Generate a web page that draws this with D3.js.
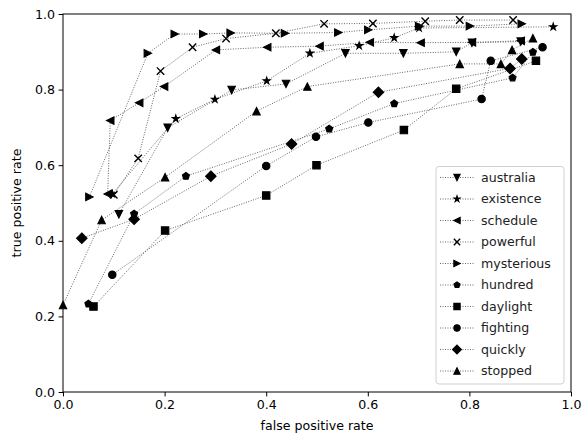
<!DOCTYPE html>
<html>
<head>
<meta charset="utf-8">
<script src="https://cdn.jsdelivr.net/npm/d3@7"></script>
<style>
  html, body { margin: 0; padding: 0; background: #fff; overflow: hidden; }
  svg { display: block; font-family: "DejaVu Sans", sans-serif; overflow: visible; }
</style>
</head>
<body>
<div class="charts-container"></div>
<script>
"use strict";

// ROC points per word: [false positive rate, true positive rate]
const australia = [[0.110, 0.470], [0.206, 0.699], [0.332, 0.799], [0.439, 0.815], [0.556, 0.896], [0.670, 0.896], [0.774, 0.900], [0.805, 0.924], [0.901, 0.927]];
const existence = [[0.097, 0.524], [0.222, 0.723], [0.299, 0.774], [0.401, 0.823], [0.486, 0.896], [0.583, 0.916], [0.652, 0.937], [0.701, 0.963], [0.965, 0.966]];
const schedule = [[0.088, 0.524], [0.093, 0.718], [0.150, 0.765], [0.199, 0.808], [0.301, 0.905], [0.402, 0.912], [0.505, 0.915], [0.604, 0.925], [0.704, 0.924], [0.805, 0.925], [0.901, 0.929]];
const powerful = [[0.100, 0.522], [0.148, 0.618], [0.192, 0.849], [0.255, 0.912], [0.321, 0.935], [0.419, 0.949], [0.514, 0.974], [0.610, 0.975], [0.713, 0.981], [0.781, 0.984], [0.886, 0.984]];
const mysterious = [[0.052, 0.516], [0.167, 0.896], [0.220, 0.947], [0.276, 0.947], [0.330, 0.950], [0.437, 0.949], [0.542, 0.951], [0.601, 0.958], [0.701, 0.968], [0.801, 0.968], [0.903, 0.974]];
const hundred = [[0.050, 0.233], [0.140, 0.471], [0.242, 0.571], [0.524, 0.696], [0.652, 0.763], [0.885, 0.831], [0.925, 0.899]];
const daylight = [[0.060, 0.226], [0.201, 0.427], [0.400, 0.520], [0.499, 0.600], [0.671, 0.693], [0.774, 0.802], [0.931, 0.876]];
const fighting = [[0.097, 0.310], [0.400, 0.598], [0.498, 0.675], [0.601, 0.713], [0.824, 0.775], [0.842, 0.876], [0.944, 0.912]];
const quickly = [[0.037, 0.407], [0.140, 0.457], [0.291, 0.571], [0.450, 0.656], [0.621, 0.793], [0.880, 0.856], [0.903, 0.881]];
const stopped = [[0.000, 0.230], [0.076, 0.455], [0.201, 0.568], [0.381, 0.743], [0.481, 0.808], [0.781, 0.868], [0.862, 0.868], [0.884, 0.905], [0.925, 0.936]];

const seriesNames = ["australia", "existence", "schedule", "powerful", "mysterious", "hundred", "daylight", "fighting", "quickly", "stopped"];
const seriesValues = [australia, existence, schedule, powerful, mysterious, hundred, daylight, fighting, quickly, stopped];

const tickValues = [0, 0.2, 0.4, 0.6, 0.8, 1.0];

// Marker shape for each word (matplotlib style codes)
const markerTypes = ["v", "*", "<", "x", ">", "p", "s", "o", "D", "^"];

// Builds a marker path centred on 0,0, s is the marker size in px
function markerPath(type, s) {
  const h = s / 2;
  const poly = pts => "M" + pts.map(p => p[0].toFixed(2) + "," + p[1].toFixed(2)).join("L") + "Z";
  if (type === "v") return poly([[-h, -h], [h, -h], [0, h]]);
  if (type === "^") return poly([[0, -h], [h, h], [-h, h]]);
  if (type === "<") return poly([[-h, 0], [h, -h], [h, h]]);
  if (type === ">") return poly([[h, 0], [-h, h], [-h, -h]]);
  if (type === "s") return poly([[-h, -h], [h, -h], [h, h], [-h, h]]);
  if (type === "D") {
    const d = h * Math.SQRT2;
    return poly([[0, -d], [d, 0], [0, d], [-d, 0]]);
  }
  if (type === "o") return `M${h},0A${h},${h} 0 1,1 ${-h},0A${h},${h} 0 1,1 ${h},0Z`;
  if (type === "p") {
    return poly(d3.range(5).map(i => {
      const a = -Math.PI / 2 + i * 2 * Math.PI / 5;
      return [h * Math.cos(a), h * Math.sin(a)];
    }));
  }
  if (type === "*") {
    return poly(d3.range(10).map(i => {
      const a = -Math.PI / 2 + i * Math.PI / 5;
      const r = i % 2 === 0 ? h : h * 0.382;
      return [r * Math.cos(a), r * Math.sin(a)];
    }));
  }
  if (type === "x") return `M${-h},${-h}L${h},${h}M${-h},${h}L${h},${-h}`;
}

function drawMarker(sel, type, size) {
  sel.append("path")
    .attr("d", markerPath(type, size))
    .attr("fill", type === "x" ? "none" : "#000")
    .attr("stroke", "#000")
    .attr("stroke-width", type === "x" ? 1.4 : 1.1)
    .attr("stroke-linejoin", "miter");
}

const width = 584;
const height = 436;
const margin = { left: 63, right: 13, top: 14, bottom: 44 };
const innerWidth = width - margin.left - margin.right;
const innerHeight = height - margin.top - margin.bottom;
const fontSize = 12.6;
const markerSize = 7.4;
const lineColor = "#555";

const svg = d3.select(".charts-container")
  .append("svg")
    .attr("width", width)
    .attr("height", height);

const innerChart = svg
  .append("g")
    .attr("transform", `translate(${margin.left}, ${margin.top})`);

const xScale = d3.scaleLinear()
  .domain([0, 1])
  .range([0, innerWidth]);

const yScale = d3.scaleLinear()
  .domain([0, 1])
  .range([innerHeight, 0]);

// Lines first, then markers on top
const lineGenerator = d3.line()
  .x(d => xScale(d[0]))
  .y(d => yScale(d[1]));

seriesValues.forEach(values => {
  innerChart
    .append("path")
      .attr("d", lineGenerator(values))
      .attr("fill", "none")
      .attr("stroke", lineColor)
      .attr("stroke-width", 0.9)
      .attr("stroke-dasharray", "1,1.5");
});

seriesValues.forEach((values, i) => {
  values.forEach(d => {
    const g = innerChart
      .append("g")
        .attr("transform", `translate(${xScale(d[0])}, ${yScale(d[1])})`);
    drawMarker(g, markerTypes[i], markerSize);
  });
});

// Axes
const xAxis = d3.axisBottom(xScale)
  .tickValues(tickValues)
  .tickFormat(d3.format(".1f"))
  .tickSize(4.4)
  .tickPadding(3.5)
  .tickSizeOuter(0);

const yAxis = d3.axisLeft(yScale)
  .tickValues(tickValues)
  .tickFormat(d3.format(".1f"))
  .tickSize(4.4)
  .tickPadding(3.5)
  .tickSizeOuter(0);

innerChart
  .append("g")
    .attr("class", "axis-x")
    .attr("transform", `translate(0, ${innerHeight})`)
    .call(xAxis);

innerChart
  .append("g")
    .attr("class", "axis-y")
    .call(yAxis);

svg.selectAll(".axis-x, .axis-y")
  .selectAll("text")
    .attr("font-family", "DejaVu Sans")
    .attr("font-size", fontSize)
    .attr("fill", "#000");

svg.selectAll(".domain").remove();
svg.selectAll(".tick line").attr("stroke", "#000").attr("stroke-width", 1);

// Frame
innerChart
  .append("rect")
    .attr("width", innerWidth)
    .attr("height", innerHeight)
    .attr("fill", "none")
    .attr("stroke", "#000")
    .attr("stroke-width", 1);

// Axis titles
svg.append("text")
  .attr("x", margin.left + innerWidth / 2)
  .attr("y", 430)
  .attr("text-anchor", "middle")
  .attr("font-size", fontSize)
  .text("false positive rate");

svg.append("text")
  .attr("transform", `translate(21, ${margin.top + innerHeight / 2}) rotate(-90)`)
  .attr("text-anchor", "middle")
  .attr("font-size", fontSize)
  .text("true positive rate");

// Legend
const legend = svg.append("g")
  .attr("transform", "translate(436, 166.5)");

legend.append("rect")
  .attr("width", 128)
  .attr("height", 217.5)
  .attr("rx", 3)
  .attr("fill", "#fff")
  .attr("fill-opacity", 0.8)
  .attr("stroke", "#d0d0d0")
  .attr("stroke-width", 1);

const legendItems = legend.selectAll("g.legend-item")
  .data(seriesNames)
  .join("g")
    .attr("class", "legend-item")
    .attr("transform", (d, i) => `translate(0, ${11 + i * 21.5})`);

legendItems.append("line")
  .attr("x1", 4)
  .attr("x2", 39)
  .attr("stroke", lineColor)
  .attr("stroke-width", 0.9)
  .attr("stroke-dasharray", "1,1.5");

legendItems.each(function(d, i) {
  const g = d3.select(this).append("g").attr("transform", "translate(21, 0)");
  drawMarker(g, markerTypes[i], markerSize * 0.85);
});

legendItems.append("text")
  .attr("x", 45)
  .attr("dy", "0.35em")
  .attr("font-size", fontSize)
  .attr("fill", "#222")
  .text(d => d);
</script>
</body>
</html>
